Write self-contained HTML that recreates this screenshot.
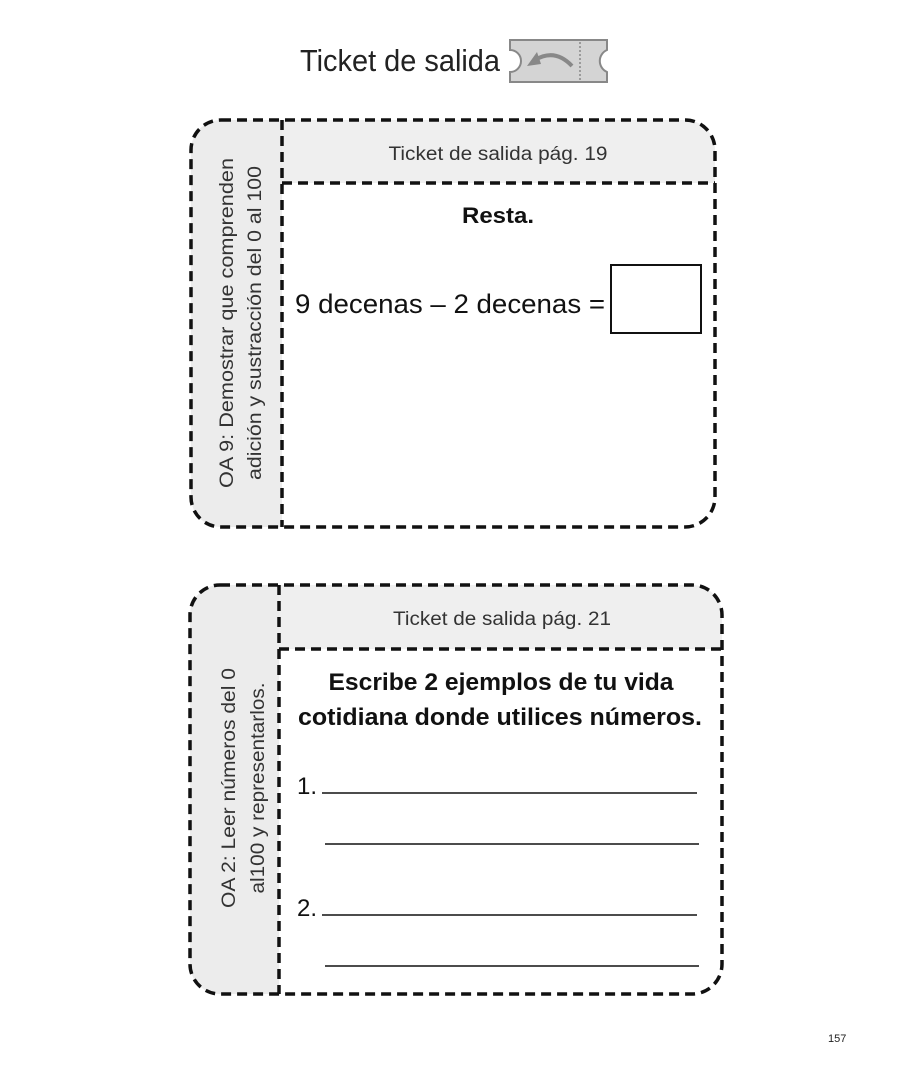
<!DOCTYPE html>
<html><head><meta charset="utf-8"><style>
html,body{margin:0;padding:0;background:#fff;}
svg{display:block;font-family:"Liberation Sans",sans-serif;}
</style></head><body>
<svg width="903" height="1080" viewBox="0 0 903 1080">
<text x="300" y="71" font-size="31" fill="#222" textLength="200" lengthAdjust="spacingAndGlyphs">Ticket de salida</text>
<g>
<path d="M510 40 H607 V50 A12 12 0 0 0 607 72 V82 H510 V72 A10 10 0 0 0 510 50 Z" fill="#d4d4d4" stroke="#888" stroke-width="2"/>
<line x1="580" y1="42" x2="580" y2="80" stroke="#888" stroke-width="1.5" stroke-dasharray="2,2"/>
<path d="M572 66 Q555 48 535 60" fill="none" stroke="#888" stroke-width="4"/>
<path d="M527 66 L537 52 L541 64 Z" fill="#888"/>
</g>
<!-- Card 1 -->
<path d="M282 120 H685 A30 30 0 0 1 715 150 V183 H282 Z" fill="#efefef"/>
<path d="M282 120 V527 H221 A30 30 0 0 1 191 497 V150 A30 30 0 0 1 221 120 Z" fill="#ececec"/>
<g fill="none" stroke="#111" stroke-width="3.5" stroke-dasharray="10,6">
<rect x="191" y="120" width="524" height="407" rx="30"/>
<line x1="282" y1="120" x2="282" y2="527"/>
<line x1="282" y1="183" x2="715" y2="183"/>
</g>
<text x="498" y="160" font-size="19" fill="#333" text-anchor="middle" textLength="219" lengthAdjust="spacingAndGlyphs">Ticket de salida pág. 19</text>
<g transform="translate(233,323) rotate(-90)" font-size="19" fill="#333" text-anchor="middle">
<text x="0" y="0" textLength="330" lengthAdjust="spacingAndGlyphs">OA 9: Demostrar que comprenden</text>
<text x="0" y="28" textLength="314" lengthAdjust="spacingAndGlyphs">adición y sustracción del 0 al 100</text>
</g>
<text x="498" y="223" font-size="22" font-weight="bold" fill="#111" text-anchor="middle" textLength="72" lengthAdjust="spacingAndGlyphs">Resta.</text>
<text x="295" y="313" font-size="27" fill="#111" textLength="310" lengthAdjust="spacingAndGlyphs">9 decenas – 2 decenas =</text>
<rect x="611" y="265" width="90" height="68" fill="none" stroke="#111" stroke-width="2"/>
<!-- Card 2 -->
<path d="M279 585 H692 A30 30 0 0 1 722 615 V649 H279 Z" fill="#efefef"/>
<path d="M279 585 V994 H220 A30 30 0 0 1 190 964 V615 A30 30 0 0 1 220 585 Z" fill="#ececec"/>
<g fill="none" stroke="#111" stroke-width="3.5" stroke-dasharray="10,6">
<rect x="190" y="585" width="532" height="409" rx="30"/>
<line x1="279" y1="585" x2="279" y2="994"/>
<line x1="279" y1="649" x2="722" y2="649"/>
</g>
<text x="502" y="625" font-size="19" fill="#333" text-anchor="middle" textLength="218" lengthAdjust="spacingAndGlyphs">Ticket de salida pág. 21</text>
<g transform="translate(235,788) rotate(-90)" font-size="19" fill="#333" text-anchor="middle">
<text x="0" y="0" textLength="240" lengthAdjust="spacingAndGlyphs">OA 2: Leer números del 0</text>
<text x="0" y="29" textLength="211" lengthAdjust="spacingAndGlyphs">al100 y representarlos.</text>
</g>
<text x="501" y="690" font-size="24" font-weight="bold" fill="#111" text-anchor="middle" textLength="345" lengthAdjust="spacingAndGlyphs">Escribe 2 ejemplos de tu vida</text>
<text x="500" y="725" font-size="24" font-weight="bold" fill="#111" text-anchor="middle" textLength="404" lengthAdjust="spacingAndGlyphs">cotidiana donde utilices números.</text>
<text x="297" y="794" font-size="24" fill="#111">1.</text>
<text x="297" y="916" font-size="24" fill="#111">2.</text>
<g stroke="#111" stroke-width="1.5">
<line x1="322" y1="793" x2="697" y2="793"/>
<line x1="325" y1="844" x2="699" y2="844"/>
<line x1="322" y1="915" x2="697" y2="915"/>
<line x1="325" y1="966" x2="699" y2="966"/>
</g>
<text x="828" y="1042" font-size="11" fill="#222">157</text>
</svg>
</body></html>
